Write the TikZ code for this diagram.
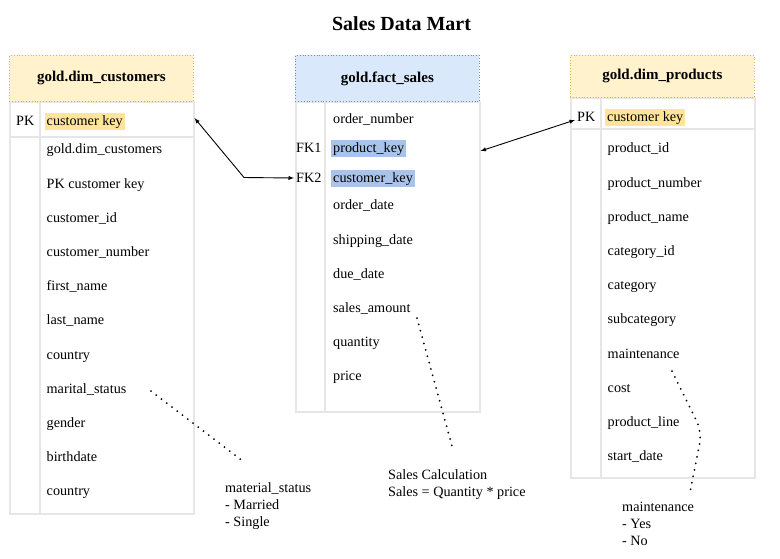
\documentclass[tikz,border=0pt]{standalone}
\usepackage{fontspec}
\setmainfont{Liberation Serif}
\usetikzlibrary{positioning, calc}

\definecolor{hdryellow}{HTML}{FFF2CC}
\definecolor{hdryellowline}{HTML}{D6B656}
\definecolor{hdrblue}{HTML}{DAE8FC}
\definecolor{hdrblueline}{HTML}{6C8EBF}
\definecolor{keyyellow}{HTML}{FFE599}
\definecolor{keyblue}{HTML}{A9C4EB}
\definecolor{gridgray}{HTML}{E6E6E6}

\begin{document}
\begin{tikzpicture}[
    x=1pt, y=-1pt, % pixel grid, y grows downwards
    >=latex, % LaTeX-style arrows
    node distance=34.2pt and 0pt, % row pitch in the tables
    font=\fontsize{14.2}{17}\selectfont,
    header/.style={dotted, line width=0.8pt, minimum width=184pt, minimum height=46pt, anchor=north west, inner sep=0pt, font=\fontsize{15}{18}\selectfont\bfseries},
    tbody/.style={draw=gridgray, line width=1.5pt, minimum width=184pt, anchor=north west, inner sep=0pt},
    grid/.style={draw=gridgray, line width=1.5pt},
    field/.style={anchor=west, inner xsep=2pt, inner ysep=2pt, text height=11.4pt, text depth=1.6pt},
    row/.style={below=of #1.west, field},
    link/.style={line width=0.9pt},
    hint/.style={line width=2pt, dash pattern=on 0pt off 6.6pt, line cap=round},
    note/.style={align=left, anchor=north west, inner sep=0pt}
]

\useasboundingbox (0,0) rectangle (780,558);

% Title
\node[font=\fontsize{20}{24}\selectfont\bfseries] (title) at (401.5,24) {Sales Data Mart};

% Table bodies
\node[tbody, minimum height=412pt] (custbody) at (9,101) {};
\node[tbody, minimum height=310pt] (factbody) at (295,101) {};
\node[tbody, minimum height=380pt] (prodbody) at (570,97) {};
\draw[grid] ([xshift=31pt]custbody.north west) -- ([xshift=31pt]custbody.south west);
\draw[grid] ([yshift=-36pt]custbody.north west) -- ([yshift=-36pt]custbody.north east);
\draw[grid] ([xshift=30pt]factbody.north west) -- ([xshift=30pt]factbody.south west);
\draw[grid] ([xshift=31pt]prodbody.north west) -- ([xshift=31pt]prodbody.south west);
\draw[grid] ([yshift=-32pt]prodbody.north west) -- ([yshift=-32pt]prodbody.north east);

% Headers
\node[header, fill=hdryellow, draw=hdryellowline] (custhead) at (9,55) {gold.dim\_customers};
\node[header, fill=hdrblue, draw=hdrblueline] (facthead) at (295,55) {gold.fact\_sales};
\node[header, fill=hdryellow, draw=hdryellowline, minimum height=42pt] (prodhead) at (570,55) {gold.dim\_products};

% gold.dim_customers
\node[field] (pkc) at (14,121) {PK};
\node[field, fill=keyyellow] (ckey) at (44.5,121) {customer key};
\node[field] (cdim) at (44.5,149) {gold.dim\_customers};
\node[row=cdim] (cpk) {PK customer key};
\node[row=cpk] (cid) {customer\_id};
\node[row=cid] (cnum) {customer\_number};
\node[row=cnum] (cfirst) {first\_name};
\node[row=cfirst] (clast) {last\_name};
\node[row=clast] (ccountry) {country};
\node[row=ccountry] (mstat) {marital\_status};
\node[row=mstat] (cgender) {gender};
\node[row=cgender] (cbirth) {birthdate};
\node[row=cbirth] (ccountryb) {country};

% gold.fact_sales
\node[field] (onum) at (331,119) {order\_number};
\node[field] (fk1) at (294,148) {FK1};
\node[field, fill=keyblue] (pkey) at (331,148) {product\_key};
\node[field] (fk2) at (294,178) {FK2};
\node[field, fill=keyblue] (skey) at (331,178) {customer\_key};
\node[field] (odate) at (331,205) {order\_date};
\node[row=odate] (sdate) {shipping\_date};
\node[row=sdate] (ddate) {due\_date};
\node[row=ddate] (samount) {sales\_amount};
\node[row=samount] (qty) {quantity};
\node[row=qty] (price) {price};

% gold.dim_products
\node[field] (pkp) at (575,117) {PK};
\node[field, fill=keyyellow] (pckey) at (605,117) {customer key};
\node[field] (pid) at (605.5,148) {product\_id};
\node[row=pid] (pnum) {product\_number};
\node[row=pnum] (pname) {product\_name};
\node[row=pname] (catid) {category\_id};
\node[row=catid] (cat) {category};
\node[row=cat] (subcat) {subcategory};
\node[row=subcat] (maint) {maintenance};
\node[row=maint] (cost) {cost};
\node[row=cost] (pline) {product\_line};
\node[row=pline] (start) {start\_date};

% Notes
\node[note] (msnote) at (225,482) {material\_status\\- Married\\- Single};
\node[note] (salesnote) at (388,469) {Sales Calculation\\Sales = Quantity * price};
\node[note] (maintnote) at (622,502) {maintenance\\- Yes\\- No};

% Relations
\coordinate (bendA) at (244,177.5);
\coordinate (factR) at ($(factbody.east |- pkey.east)+(0,3)$);
\draw[<->, link] ([yshift=3pt]ckey.east -| custbody.east) -- (bendA) -- (fk2.west);
\draw[<->, link] (factR) -- ([yshift=-3pt]pkp.west);

% Dotted hints
\coordinate (msA) at (151,391);
\coordinate (msB) at (244,462);
\coordinate (saA) at (417,318);
\coordinate (saB) at (452,446);
\coordinate (mtA) at (672,371);
\coordinate (mtB) at (702,432);
\coordinate (mtC) at (690,492);
\draw[hint] (msA) -- (msB);
\draw[hint] (saA) -- (saB);
\draw[hint, rounded corners=12pt] (mtA) -- (mtB) -- (mtC);

\end{tikzpicture}
\end{document}
